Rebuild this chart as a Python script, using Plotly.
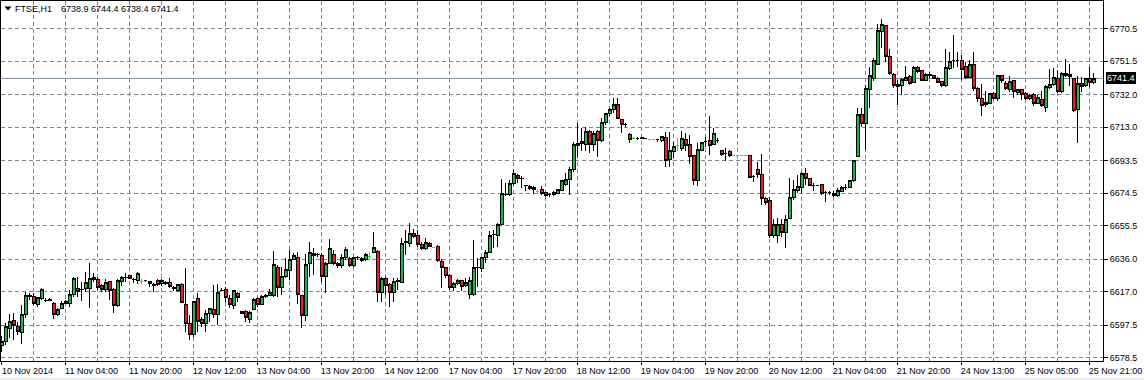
import plotly.graph_objects as go

symbol = "FTSE,H1"

opens = [
    6586.0, 6588.0, 6595.8, 6600.1, 6597.1, 6593.3, 6603.9, 6614.2, 6614.2, 6609.8,
    6612.9, 6611.9, 6612.3, 6610.4, 6603.6, 6607.4, 6610.4, 6610.4, 6615.2, 6619.1,
    6618.1, 6618.7, 6618.7, 6625.5, 6624.3, 6620.5, 6618.5, 6623.0, 6618.1, 6609.0,
    6623.0, 6625.3, 6626.3, 6624.3, 6623.6, 6623.0, 6623.4, 6623.0, 6621.0, 6623.8,
    6621.8, 6622.6, 6622.6, 6619.5, 6617.9, 6621.4, 6609.8, 6598.3, 6591.9, 6612.9,
    6601.0, 6598.7, 6604.5, 6607.0, 6603.6, 6617.7, 6618.5, 6613.2, 6609.0, 6616.3,
    6604.5, 6605.3, 6601.0, 6607.0, 6613.2, 6609.7, 6614.4, 6614.8, 6614.8, 6631.3,
    6619.6, 6625.7, 6629.6, 6636.0, 6637.1, 6614.6, 6603.0, 6633.6, 6639.5, 6638.5,
    6637.9, 6625.9, 6633.6, 6638.5, 6633.6, 6632.1, 6637.1, 6636.6, 6632.3, 6636.8,
    6636.6, 6635.6, 6637.5, 6640.0, 6640.4, 6616.7, 6624.9, 6621.0, 6616.7, 6623.3,
    6622.6, 6645.9, 6645.3, 6651.1, 6649.8, 6644.7, 6642.4, 6645.3, 6642.8, 6643.7,
    6634.6, 6631.1, 6626.8, 6619.6, 6622.0, 6623.4, 6620.5, 6615.6, 6615.6, 6631.2,
    6630.8, 6637.0, 6640.1, 6650.5, 6649.8, 6656.4, 6673.7, 6673.5, 6679.9, 6684.9,
    6683.0, 6678.8, 6678.4, 6678.0, 6675.5, 6676.4, 6674.7, 6673.5, 6673.5, 6674.5,
    6676.0, 6679.3, 6682.3, 6688.1, 6702.1, 6703.6, 6703.0, 6710.4, 6703.0, 6710.4,
    6705.2, 6715.9, 6720.7, 6723.0, 6726.3, 6717.2, 6714.3, 6708.5, 6706.5, 6706.5,
    6706.6, 6706.1, 6705.9, 6705.9, 6705.6, 6705.2, 6707.1, 6693.9, 6698.8, 6702.1,
    6700.7, 6705.9, 6702.6, 6696.2, 6681.9, 6699.1, 6704.6, 6705.0, 6703.0, 6705.0,
    6699.1, 6697.8, 6698.8, 6696.6, 6696.6, 6696.6, 6696.6, 6696.6, 6684.4, 6688.1,
    6685.2, 6671.6, 6670.0, 6649.8, 6649.8, 6656.4, 6651.6, 6659.9, 6671.9, 6675.8,
    6677.8, 6686.1, 6682.8, 6679.0, 6679.0, 6679.3, 6674.9, 6674.9, 6674.5, 6673.1,
    6675.5, 6678.0, 6677.8, 6681.7, 6696.0, 6720.1, 6715.3, 6734.7, 6741.5, 6749.7,
    6768.7, 6772.0, 6754.1, 6743.8, 6737.6, 6737.2, 6740.1, 6742.5, 6739.0, 6747.9,
    6745.8, 6740.1, 6743.8, 6742.9, 6741.5, 6739.6, 6737.2, 6747.3, 6751.8, 6751.8,
    6751.8, 6748.3, 6742.1, 6749.3, 6735.3, 6729.8, 6727.3, 6726.9, 6732.4, 6729.8,
    6742.9, 6738.6, 6735.1, 6739.9, 6733.1, 6734.7, 6732.8, 6729.4, 6731.8, 6726.9,
    6728.9, 6724.6, 6736.2, 6737.6, 6741.5, 6733.7, 6744.4, 6743.4, 6741.5, 6723.0,
    6738.6, 6737.2, 6741.5, 6738.9,
]

highs = [
    6591.5, 6598.7, 6604.0, 6604.5, 6599.7, 6609.4, 6617.1, 6616.2, 6616.2, 6614.2,
    6619.5, 6613.3, 6613.7, 6610.8, 6607.5, 6611.7, 6612.3, 6618.1, 6625.9, 6625.9,
    6623.0, 6628.8, 6633.7, 6627.8, 6625.9, 6621.4, 6624.5, 6623.4, 6619.1, 6624.5,
    6626.5, 6628.2, 6626.5, 6624.9, 6628.8, 6624.3, 6623.8, 6623.6, 6622.0, 6624.3,
    6624.3, 6623.4, 6625.3, 6620.5, 6621.4, 6622.0, 6631.1, 6603.6, 6611.7, 6616.2,
    6602.6, 6606.5, 6607.8, 6621.0, 6621.4, 6619.1, 6620.0, 6615.2, 6618.1, 6617.1,
    6606.0, 6606.5, 6606.0, 6613.2, 6614.2, 6615.2, 6615.6, 6618.7, 6640.8, 6632.7,
    6631.7, 6636.6, 6641.4, 6639.5, 6640.4, 6614.8, 6638.9, 6646.3, 6642.8, 6639.5,
    6639.5, 6634.6, 6647.8, 6641.4, 6634.6, 6638.9, 6643.3, 6637.5, 6637.5, 6638.1,
    6637.1, 6639.5, 6640.0, 6652.1, 6641.4, 6625.9, 6625.9, 6622.0, 6624.9, 6624.9,
    6648.6, 6653.1, 6657.0, 6653.5, 6653.1, 6645.9, 6648.2, 6645.9, 6642.8, 6644.3,
    6636.2, 6631.7, 6627.2, 6623.0, 6624.4, 6624.0, 6624.9, 6625.9, 6647.3, 6637.0,
    6637.6, 6641.5, 6652.7, 6653.1, 6657.4, 6682.6, 6680.3, 6682.3, 6688.1, 6685.7,
    6684.6, 6679.3, 6679.0, 6678.8, 6677.0, 6678.4, 6675.1, 6674.5, 6675.5, 6676.8,
    6682.3, 6686.5, 6690.0, 6704.6, 6715.3, 6712.4, 6713.3, 6711.4, 6710.8, 6711.4,
    6718.2, 6721.5, 6724.0, 6729.8, 6729.8, 6717.6, 6715.3, 6709.4, 6707.5, 6707.5,
    6707.2, 6706.5, 6705.9, 6705.9, 6706.3, 6708.1, 6710.4, 6710.4, 6704.6, 6706.9,
    6710.8, 6709.4, 6708.5, 6696.8, 6704.0, 6704.6, 6707.5, 6719.2, 6712.4, 6706.9,
    6699.7, 6700.7, 6699.7, 6696.6, 6696.6, 6696.6, 6696.6, 6696.8, 6685.2, 6692.9,
    6697.4, 6672.5, 6672.5, 6659.5, 6660.3, 6659.5, 6661.8, 6683.2, 6682.3, 6685.2,
    6687.1, 6689.4, 6683.2, 6680.3, 6679.4, 6679.7, 6675.5, 6676.0, 6675.5, 6677.8,
    6678.4, 6679.7, 6682.3, 6693.9, 6724.4, 6724.0, 6737.6, 6748.3, 6753.1, 6773.0,
    6776.1, 6772.6, 6758.6, 6744.4, 6740.5, 6741.9, 6748.9, 6743.4, 6748.9, 6748.7,
    6746.3, 6744.4, 6745.0, 6743.4, 6742.5, 6739.9, 6758.4, 6756.6, 6766.4, 6757.0,
    6755.1, 6751.2, 6752.2, 6756.6, 6736.6, 6738.0, 6734.1, 6732.8, 6733.7, 6743.4,
    6743.4, 6739.6, 6743.0, 6740.5, 6735.3, 6735.3, 6733.7, 6732.2, 6732.8, 6731.8,
    6734.1, 6737.6, 6746.9, 6747.3, 6746.3, 6745.0, 6752.8, 6749.6, 6741.9, 6742.9,
    6742.5, 6741.9, 6748.3, 6744.4,
]

lows = [
    6582.0, 6586.1, 6590.0, 6589.0, 6591.9, 6586.5, 6602.0, 6612.3, 6609.4, 6608.4,
    6612.3, 6611.0, 6611.4, 6601.2, 6603.0, 6606.9, 6610.0, 6608.4, 6614.2, 6614.2,
    6611.7, 6617.1, 6607.4, 6623.0, 6618.1, 6617.1, 6617.1, 6612.3, 6604.5, 6608.4,
    6620.5, 6623.0, 6624.5, 6622.0, 6621.8, 6621.4, 6623.0, 6619.9, 6617.1, 6620.5,
    6620.5, 6621.0, 6619.5, 6617.7, 6617.1, 6610.4, 6593.8, 6589.0, 6590.9, 6593.8,
    6596.8, 6593.8, 6599.7, 6601.6, 6597.7, 6617.3, 6611.3, 6607.8, 6607.0, 6611.3,
    6604.0, 6599.5, 6599.0, 6606.4, 6608.4, 6609.4, 6613.6, 6614.6, 6614.2, 6614.2,
    6615.2, 6624.9, 6623.9, 6635.6, 6609.7, 6596.0, 6600.0, 6625.9, 6626.8, 6637.5,
    6623.0, 6616.1, 6633.0, 6632.7, 6631.1, 6631.1, 6635.6, 6631.7, 6631.7, 6635.6,
    6634.2, 6635.0, 6635.6, 6639.5, 6610.9, 6611.3, 6615.2, 6608.4, 6610.9, 6618.1,
    6622.0, 6638.5, 6643.3, 6648.2, 6643.3, 6641.4, 6641.4, 6643.0, 6642.8, 6634.6,
    6619.1, 6624.9, 6618.1, 6617.5, 6621.1, 6617.6, 6620.1, 6612.9, 6614.7, 6620.1,
    6628.8, 6633.7, 6639.5, 6642.4, 6643.0, 6655.4, 6672.9, 6672.9, 6679.3, 6680.3,
    6677.4, 6676.0, 6676.4, 6673.9, 6674.1, 6673.5, 6672.5, 6672.2, 6673.1, 6674.1,
    6675.5, 6678.4, 6673.5, 6687.1, 6695.8, 6698.8, 6698.8, 6697.8, 6698.8, 6695.8,
    6704.6, 6714.3, 6719.2, 6721.5, 6717.6, 6709.4, 6713.3, 6704.0, 6706.0, 6705.6,
    6705.8, 6705.8, 6705.9, 6705.9, 6704.2, 6704.6, 6690.0, 6690.0, 6694.9, 6698.8,
    6699.3, 6699.3, 6691.6, 6679.0, 6678.4, 6698.8, 6701.7, 6696.8, 6702.3, 6703.6,
    6696.4, 6693.5, 6695.8, 6696.6, 6696.6, 6696.6, 6696.6, 6683.2, 6680.9, 6683.6,
    6667.7, 6667.7, 6648.3, 6648.3, 6645.3, 6649.2, 6642.4, 6659.5, 6670.6, 6674.5,
    6674.5, 6679.3, 6678.4, 6675.5, 6678.6, 6673.5, 6669.6, 6673.5, 6672.5, 6672.5,
    6675.1, 6676.4, 6677.4, 6681.3, 6695.8, 6712.8, 6699.7, 6724.4, 6739.6, 6749.3,
    6759.0, 6751.2, 6743.4, 6735.7, 6726.0, 6731.8, 6739.6, 6737.6, 6738.6, 6744.4,
    6739.6, 6739.6, 6741.9, 6741.1, 6738.6, 6736.6, 6736.6, 6746.3, 6747.3, 6748.3,
    6740.5, 6741.1, 6741.5, 6734.1, 6727.5, 6719.7, 6725.0, 6726.3, 6728.9, 6728.3,
    6738.6, 6734.7, 6733.7, 6730.2, 6731.8, 6728.9, 6728.9, 6728.9, 6725.6, 6726.3,
    6725.0, 6722.1, 6735.3, 6737.0, 6733.1, 6733.1, 6742.5, 6737.2, 6722.1, 6703.6,
    6733.7, 6736.6, 6736.6, 6738.4,
]

closes = [
    6588.0, 6596.8, 6599.7, 6597.3, 6593.8, 6603.9, 6614.6, 6614.6, 6610.0, 6613.7,
    6618.1, 6612.0, 6611.9, 6603.6, 6606.9, 6610.4, 6611.3, 6615.2, 6624.5, 6617.1,
    6618.5, 6622.6, 6624.9, 6624.3, 6619.5, 6618.1, 6622.6, 6617.7, 6608.8, 6623.9,
    6625.5, 6625.4, 6624.9, 6624.4, 6627.6, 6623.0, 6623.4, 6621.8, 6620.9, 6621.4,
    6623.9, 6622.0, 6619.9, 6618.7, 6621.0, 6610.7, 6598.7, 6591.9, 6611.3, 6599.7,
    6598.3, 6604.5, 6607.4, 6603.6, 6616.8, 6617.9, 6613.8, 6609.7, 6617.5, 6613.6,
    6605.5, 6601.8, 6605.0, 6612.8, 6609.7, 6614.2, 6614.8, 6616.7, 6632.7, 6619.6,
    6625.7, 6630.3, 6636.0, 6637.9, 6615.2, 6603.0, 6633.2, 6640.0, 6638.1, 6638.7,
    6625.9, 6633.6, 6642.4, 6633.6, 6632.1, 6637.1, 6641.4, 6632.3, 6637.1, 6637.0,
    6635.2, 6638.5, 6637.5, 6643.0, 6616.7, 6624.9, 6620.6, 6616.7, 6623.3, 6623.9,
    6645.3, 6646.1, 6651.1, 6649.2, 6644.7, 6642.4, 6645.9, 6643.7, 6642.8, 6635.2,
    6631.3, 6626.8, 6619.6, 6621.6, 6623.4, 6620.1, 6622.4, 6623.4, 6631.4, 6631.4,
    6637.0, 6640.1, 6649.6, 6650.6, 6656.4, 6674.1, 6673.9, 6680.3, 6685.7, 6683.2,
    6683.1, 6678.9, 6677.4, 6676.4, 6675.5, 6674.5, 6673.1, 6673.5, 6675.1, 6676.4,
    6681.7, 6682.3, 6688.5, 6702.6, 6703.6, 6704.6, 6710.4, 6702.6, 6709.4, 6705.2,
    6715.9, 6720.7, 6723.0, 6726.3, 6718.2, 6714.3, 6714.3, 6706.0, 6706.5, 6706.5,
    6706.8, 6706.1, 6705.9, 6705.9, 6705.6, 6707.5, 6693.5, 6699.1, 6701.7, 6702.1,
    6706.5, 6702.3, 6695.8, 6681.9, 6699.7, 6704.2, 6704.6, 6702.3, 6709.4, 6705.0,
    6696.8, 6697.8, 6696.4, 6696.6, 6696.6, 6696.6, 6696.6, 6683.6, 6684.4, 6685.2,
    6671.6, 6669.2, 6649.8, 6656.0, 6656.0, 6651.6, 6658.9, 6671.9, 6676.4, 6678.4,
    6686.1, 6682.8, 6679.0, 6679.0, 6679.0, 6674.5, 6674.9, 6674.9, 6673.1, 6675.8,
    6677.8, 6678.0, 6681.7, 6693.5, 6720.1, 6715.3, 6735.3, 6742.9, 6751.6, 6769.1,
    6772.6, 6754.1, 6744.4, 6737.0, 6736.6, 6740.9, 6741.9, 6738.6, 6747.9, 6745.4,
    6740.0, 6743.4, 6742.9, 6741.5, 6739.0, 6737.2, 6747.9, 6751.2, 6751.8, 6751.8,
    6746.3, 6742.1, 6749.3, 6735.3, 6729.8, 6725.4, 6726.0, 6732.4, 6729.8, 6742.9,
    6739.9, 6735.3, 6739.6, 6733.7, 6734.7, 6731.8, 6729.8, 6731.4, 6726.9, 6730.4,
    6725.6, 6736.6, 6737.6, 6741.9, 6733.7, 6744.4, 6743.0, 6742.5, 6722.5, 6738.6,
    6736.6, 6741.5, 6739.0, 6741.4,
]

# bars drawn in the platform's "doji" lime colour
lime_bars = [35, 92, 108, 134, 158, 162, 163, 169, 183, 184, 185, 186]

x_tick_index = [0, 16, 32, 48, 64, 80, 96, 112, 128, 144, 160, 176, 192, 208, 224, 240, 256, 272]
x_tick_labels = [
    "10 Nov 2014", "11 Nov 04:00", "11 Nov 20:00", "12 Nov 12:00", "13 Nov 04:00",
    "13 Nov 20:00", "14 Nov 12:00", "17 Nov 04:00", "17 Nov 20:00", "18 Nov 12:00",
    "19 Nov 04:00", "19 Nov 20:00", "20 Nov 12:00", "21 Nov 04:00", "21 Nov 20:00",
    "24 Nov 13:00", "25 Nov 05:00", "25 Nov 21:00",
]
x_grid_index = [8, 24, 40, 56, 72, 88, 104, 120, 136, 152, 168, 184, 200, 216, 232, 248, 264]
y_tick_values = [6770.5, 6751.5, 6732.0, 6713.0, 6693.5, 6674.5, 6655.5, 6636.0, 6617.0, 6597.5, 6578.5]

# ---------------------------------------------------------------------------
GREEN = "#22b54a"
RED = "#ed1c24"
LIME = "#00ff00"
GRID = "#778899"
FONT = "Liberation Sans"

n = len(opens)
bar_index = list(range(n))
main_idx = [i for i in bar_index if i not in lime_bars]


def pick(arr, idx):
    return [arr[i] for i in idx]


fig = go.Figure()
fig.add_trace(go.Candlestick(
    x=main_idx,
    open=pick(opens, main_idx), high=pick(highs, main_idx),
    low=pick(lows, main_idx), close=pick(closes, main_idx),
    increasing=dict(line=dict(color="black", width=1), fillcolor=GREEN),
    decreasing=dict(line=dict(color="black", width=1), fillcolor=RED),
    whiskerwidth=0, hoverinfo="skip",
))
fig.add_trace(go.Candlestick(
    x=lime_bars,
    open=pick(opens, lime_bars), high=pick(highs, lime_bars),
    low=pick(lows, lime_bars), close=pick(closes, lime_bars),
    increasing=dict(line=dict(color=LIME, width=1), fillcolor=LIME),
    decreasing=dict(line=dict(color=LIME, width=1), fillcolor=LIME),
    whiskerwidth=0, hoverinfo="skip",
))

W, H = 1144, 380
ML, MR, MT, MB = 1, 41, 1, 19
PW, PH = W - ML - MR, H - MT - MB


def px_x(X):
    return (X - ML) / PW


def px_y(Y):
    return (H - MB - Y) / PH


last_o, last_h, last_l, last_c = opens[-1], highs[-1], lows[-1], closes[-1]

shapes = [
    dict(type="line", xref="paper", yref="y", x0=0, x1=1, y0=last_c, y1=last_c,
         line=dict(color=GRID, width=1), layer="between"),
    dict(type="path", xref="paper", yref="paper",
         path=f"M {px_x(4.5)},{px_y(6.5)} L {px_x(11.5)},{px_y(6.5)} L {px_x(8)},{px_y(10.5)} Z",
         fillcolor="black", line=dict(width=0)),
    dict(type="rect", xref="paper", yref="paper", x0=px_x(-2), x1=px_x(W + 2),
         y0=px_y(378), y1=px_y(381), fillcolor="#ececec", line=dict(width=0)),
]

annotations = [
    dict(xref="paper", yref="paper", x=px_x(15), y=px_y(8.5), xanchor="left", yanchor="middle",
         text=symbol, showarrow=False, font=dict(family=FONT, size=9, color="black"),
         borderpad=0, borderwidth=0),
    dict(xref="paper", yref="paper", x=px_x(61), y=px_y(8.5), xanchor="left", yanchor="middle",
         text=f"{last_o:.1f} {last_h:.1f} {last_l:.1f} {last_c:.1f}", showarrow=False,
         font=dict(family=FONT, size=9, color="black"), borderpad=0, borderwidth=0),
    dict(xref="paper", yref="y", x=1, y=last_c, xanchor="left", yanchor="middle", xshift=3,
         text=f"{last_c:.1f}", showarrow=False, bgcolor="black",
         font=dict(family=FONT, size=9, color="white"), borderpad=1, borderwidth=0),
]

fig.update_layout(
    width=W, height=H,
    margin=dict(l=ML, r=MR, t=MT, b=MB, pad=0),
    paper_bgcolor="white", plot_bgcolor="white",
    showlegend=False, hovermode=False,
    boxgap=0.25, boxgroupgap=0,
    font=dict(family=FONT, size=9, color="black"),
    shapes=shapes, annotations=annotations,
    xaxis=dict(
        type="linear", range=[-0.125, 275.375], rangeslider=dict(visible=False),
        tickmode="array", tickvals=x_tick_index, ticktext=x_tick_labels,
        ticks="outside", ticklen=3, tickcolor="black", tickwidth=1,
        ticklabelshift=26, ticklabelstandoff=-2, ticklabeloverflow="allow",
        tickfont=dict(family=FONT, size=9, color="black"),
        showgrid=True, gridcolor=GRID, gridwidth=1, griddash="4px,3px",
        minor=dict(tickmode="array", tickvals=x_grid_index, showgrid=True, gridcolor=GRID,
                   gridwidth=1, griddash="4px,3px", ticklen=0),
        showline=True, linecolor="black", linewidth=1, mirror=True, zeroline=False,
        fixedrange=True,
    ),
    yaxis=dict(
        side="right", range=[6576.7, 6786.5],
        tickmode="array", tickvals=y_tick_values, ticktext=[f"{v:.1f}" for v in y_tick_values],
        ticks="outside", ticklen=4, tickcolor="black", tickwidth=1,
        tickfont=dict(family=FONT, size=9, color="black"),
        showgrid=True, gridcolor=GRID, gridwidth=1, griddash="4px,3px",
        showline=True, linecolor="black", linewidth=1, mirror=True, zeroline=False,
        fixedrange=True,
    ),
)

fig.write_html(
    "out.html",
    config={"displayModeBar": False},
    post_script=(
        "document.body.style.margin='0';document.body.style.padding='0';"
        "document.body.style.overflow='hidden';"
        "var s=document.createElement('style');"
        "s.textContent='.boxlayer path{shape-rendering:crispEdges;}';"
        "document.head.appendChild(s);"
    ),
)
